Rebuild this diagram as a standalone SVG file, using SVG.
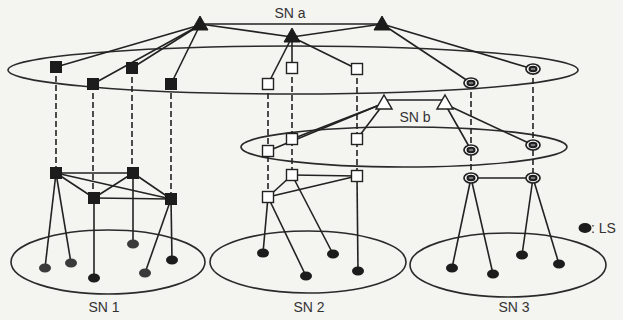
<svg xmlns="http://www.w3.org/2000/svg" width="623" height="320" viewBox="0 0 623 320">
<style>
.bg{fill:#f4f4f1}
.cl{fill:none;stroke:#2a2a2a;stroke-width:1.6}
.e{stroke:#222;stroke-width:1.6;fill:none}
.d{stroke:#222;stroke-width:1.6;fill:none;stroke-dasharray:6,3}
.bs{fill:#1c1c1c;stroke:#1c1c1c;stroke-width:1}
.ws{fill:#fff;stroke:#222;stroke-width:1.4}
.bt{fill:#1c1c1c;stroke:#1c1c1c;stroke-width:1}
.wt{fill:#fff;stroke:#222;stroke-width:1.5}
.ro{fill:#fff;stroke:#222;stroke-width:1.7}
.ri{fill:#777;stroke:#1c1c1c;stroke-width:2}
.ls{fill:#1c1c1c}
.lsg{fill:#3a3a3a}
.t{font-family:"Liberation Sans",Arial,sans-serif;font-size:14px;fill:#333}
</style>
<defs>
<rect id="sq" x="-5.5" y="-5.5" width="11" height="11"/>
<path id="tri" d="M0,-8 L8,6 L-8,6 Z"/>
<g id="ring"><ellipse class="ro" rx="7" ry="5"/><ellipse class="ri" rx="3.5" ry="2.3"/></g>
<ellipse id="lsn" rx="6" ry="4.5"/>
</defs>
<rect class="bg" x="0" y="0" width="623" height="320"/>

<g id="clusters">
<ellipse id="SNa-area" class="cl" cx="293" cy="70" rx="285" ry="24"/>
<ellipse id="SNb-area" class="cl" cx="404" cy="147" rx="163" ry="20"/>
<ellipse id="SN1-area" class="cl" cx="108" cy="262" rx="97" ry="32"/>
<ellipse id="SN2-area" class="cl" cx="308" cy="262" rx="98" ry="31"/>
<ellipse id="SN3-area" class="cl" cx="508" cy="265" rx="98" ry="32"/>
</g>

<g id="connectors">
<line class="e" x1="200" y1="24" x2="382" y2="24"/>
<line class="e" x1="200" y1="24" x2="292" y2="37"/>
<line class="e" x1="292" y1="37" x2="382" y2="24"/>
<line class="e" x1="200" y1="25" x2="56" y2="67"/>
<line class="e" x1="200" y1="25" x2="93" y2="84"/>
<line class="e" x1="200" y1="25" x2="132" y2="68"/>
<line class="e" x1="200" y1="25" x2="171" y2="84"/>
<line class="e" x1="292" y1="37" x2="268" y2="84"/>
<line class="e" x1="292" y1="37" x2="292" y2="68"/>
<line class="e" x1="292" y1="37" x2="357" y2="69"/>
<line class="e" x1="382" y1="24" x2="471" y2="83"/>
<line class="e" x1="382" y1="24" x2="533" y2="69"/>
<line class="e" x1="384" y1="100" x2="445" y2="100"/>
<line class="e" x1="382" y1="104" x2="268" y2="151"/>
<line class="e" x1="382" y1="104" x2="292" y2="139"/>
<line class="e" x1="382" y1="106" x2="357" y2="139"/>
<line class="e" x1="445" y1="104" x2="471" y2="150"/>
<line class="e" x1="445" y1="104" x2="533" y2="145"/>
<line class="e" x1="56" y1="173" x2="133" y2="173"/>
<line class="e" x1="56" y1="173" x2="94" y2="198"/>
<line class="e" x1="56" y1="173" x2="171" y2="199"/>
<line class="e" x1="133" y1="173" x2="94" y2="198"/>
<line class="e" x1="133" y1="173" x2="171" y2="199"/>
<line class="e" x1="94" y1="198" x2="171" y2="199"/>
<line class="e" x1="292" y1="175" x2="357" y2="176"/>
<line class="e" x1="292" y1="175" x2="268" y2="197"/>
<line class="e" x1="268" y1="197" x2="357" y2="176"/>
<line class="e" x1="471" y1="178" x2="533" y2="178"/>
<line class="d" x1="56" y1="67" x2="56" y2="173"/>
<line class="d" x1="93" y1="84" x2="93" y2="198"/>
<line class="d" x1="132" y1="68" x2="132" y2="173"/>
<line class="d" x1="171" y1="84" x2="171" y2="199"/>
<line class="d" x1="268" y1="84" x2="268" y2="197"/>
<line class="d" x1="292" y1="68" x2="292" y2="175"/>
<line class="d" x1="357" y1="69" x2="357" y2="176"/>
<line class="d" x1="471" y1="83" x2="471" y2="178"/>
<line class="d" x1="533" y1="69" x2="533" y2="178"/>
<line class="e" x1="56" y1="173" x2="45" y2="268"/>
<line class="e" x1="56" y1="173" x2="71" y2="263"/>
<line class="e" x1="94" y1="198" x2="94" y2="278"/>
<line class="e" x1="133" y1="173" x2="133" y2="244"/>
<line class="e" x1="171" y1="199" x2="145" y2="273"/>
<line class="e" x1="171" y1="199" x2="172" y2="260"/>
<line class="e" x1="268" y1="197" x2="263" y2="253"/>
<line class="e" x1="268" y1="197" x2="306" y2="276"/>
<line class="e" x1="292" y1="175" x2="333" y2="254"/>
<line class="e" x1="357" y1="176" x2="358" y2="271"/>
<line class="e" x1="471" y1="178" x2="452" y2="268"/>
<line class="e" x1="471" y1="178" x2="493" y2="274"/>
<line class="e" x1="533" y1="178" x2="522" y2="255"/>
<line class="e" x1="533" y1="178" x2="559" y2="264"/>
</g>

<g id="Ta1"><use href="#tri" class="bt" x="200" y="24"/></g>
<g id="Ta2"><use href="#tri" class="bt" x="292" y="36"/></g>
<g id="Ta3"><use href="#tri" class="bt" x="382" y="24"/></g>
<g id="Tb1"><use href="#tri" class="wt" x="384" y="103"/></g>
<g id="Tb2"><use href="#tri" class="wt" x="445" y="103"/></g>

<g id="S1"><use href="#sq" class="bs" x="56" y="67"/></g>
<g id="S2"><use href="#sq" class="bs" x="93" y="84"/></g>
<g id="S3"><use href="#sq" class="bs" x="132" y="68"/></g>
<g id="S4"><use href="#sq" class="bs" x="171" y="84"/></g>
<g id="B1"><use href="#sq" class="bs" x="56" y="173"/></g>
<g id="B2"><use href="#sq" class="bs" x="94" y="198"/></g>
<g id="B3"><use href="#sq" class="bs" x="133" y="173"/></g>
<g id="B4"><use href="#sq" class="bs" x="171" y="199"/></g>

<g id="W1"><use href="#sq" class="ws" x="268" y="84"/></g>
<g id="W2"><use href="#sq" class="ws" x="292" y="68"/></g>
<g id="W3"><use href="#sq" class="ws" x="357" y="69"/></g>
<g id="W4"><use href="#sq" class="ws" x="268" y="151"/></g>
<g id="W5"><use href="#sq" class="ws" x="292" y="139"/></g>
<g id="W6"><use href="#sq" class="ws" x="357" y="139"/></g>
<g id="W7"><use href="#sq" class="ws" x="292" y="175"/></g>
<g id="W8"><use href="#sq" class="ws" x="268" y="197"/></g>
<g id="W9"><use href="#sq" class="ws" x="357" y="176"/></g>

<g id="R1"><use href="#ring" x="471" y="83"/></g>
<g id="R2"><use href="#ring" x="533" y="69"/></g>
<g id="R3"><use href="#ring" x="471" y="150"/></g>
<g id="R4"><use href="#ring" x="533" y="145"/></g>
<g id="R5"><use href="#ring" x="471" y="178"/></g>
<g id="R6"><use href="#ring" x="533" y="178"/></g>

<g id="LS-SN1">
<use href="#lsn" class="lsg" x="45" y="268"/>
<use href="#lsn" class="lsg" x="71" y="263"/>
<use href="#lsn" class="ls" x="94" y="278"/>
<use href="#lsn" class="lsg" x="133" y="244"/>
<use href="#lsn" class="lsg" x="145" y="273"/>
<use href="#lsn" class="ls" x="172" y="260"/>
</g>
<g id="LS-SN2">
<use href="#lsn" class="ls" x="263" y="253"/>
<use href="#lsn" class="ls" x="306" y="276"/>
<use href="#lsn" class="ls" x="333" y="254"/>
<use href="#lsn" class="ls" x="358" y="271"/>
</g>
<g id="LS-SN3">
<use href="#lsn" class="ls" x="452" y="268"/>
<use href="#lsn" class="ls" x="493" y="274"/>
<use href="#lsn" class="ls" x="522" y="255"/>
<use href="#lsn" class="ls" x="559" y="264"/>
</g>

<g id="legend">
<ellipse class="ls" cx="585" cy="228" rx="6.5" ry="5"/>
<text class="t" x="591" y="233">: LS</text>
</g>

<g id="labels">
<text class="t" x="290" y="18" text-anchor="middle">SN a</text>
<text class="t" x="415" y="122" text-anchor="middle">SN b</text>
<text class="t" x="104" y="312" text-anchor="middle">SN 1</text>
<text class="t" x="309" y="312" text-anchor="middle">SN 2</text>
<text class="t" x="514" y="312" text-anchor="middle">SN 3</text>
</g>
</svg>
